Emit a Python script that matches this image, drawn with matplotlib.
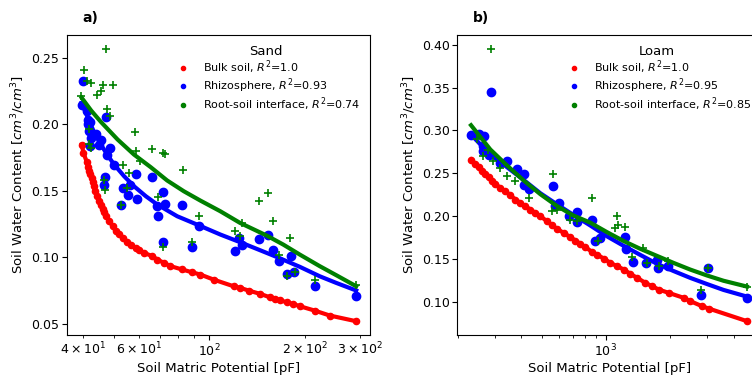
import matplotlib
matplotlib.use("Agg")
import matplotlib.pyplot as plt
from matplotlib.lines import Line2D

# ---- (a) Sand, values ----
sand_bulk_x = [39.7, 40.2, 41.2, 41.6, 41.95, 42.3, 42.7, 43.0, 43.3, 43.7, 44.3, 45.1, 45.6, 46.2,
               46.7, 47.3, 48.5, 49.7, 50.8, 52.1, 53.4, 55.3, 56.7, 58.7, 60.2, 62.4, 66.3, 68.7,
               72.1, 75.6, 82.3, 88.4, 93.9, 103.4, 119.5, 125.4, 133.2, 144.8, 155.7, 161.4,
               167.4, 175.6, 184.3, 193.3, 215.4, 240.2, 291.1]
sand_bulk_y = [0.1847, 0.1785, 0.1714, 0.1677, 0.1647, 0.1622, 0.1592, 0.1564, 0.1534, 0.1496,
               0.1459, 0.1421, 0.1391, 0.1366, 0.1339, 0.1308, 0.1271, 0.1233, 0.1196, 0.1171,
               0.1146, 0.1116, 0.1095, 0.1070, 0.1058, 0.1033, 0.1008, 0.0983, 0.0958, 0.0933,
               0.0908, 0.0887, 0.0870, 0.0832, 0.0782, 0.0770, 0.0750, 0.0725, 0.0699, 0.0689,
               0.0677, 0.0662, 0.0649, 0.0632, 0.0599, 0.0562, 0.0519]

sand_rhizo_x = [40.2, 39.7, 41.25, 41.5, 41.6, 42.3, 41.95, 42.5, 42.3, 44.0, 45.1, 45.6, 47.3,
                47.7, 48.8, 50.2, 47.0, 46.5, 52.7, 53.4, 55.6, 56.4, 58.7, 59.5, 66.0, 68.7,
                69.0, 71.4, 72.8, 71.8, 82.3, 88.4, 93.3, 120.9, 124.5, 126.9, 144.2, 153.8,
                159.5, 166.2, 175.6, 180.7, 185.6, 216.5, 291.1]
sand_rhizo_y = [0.2323, 0.2148, 0.2098, 0.2035, 0.1998, 0.2018, 0.1948, 0.1898, 0.1835, 0.1923,
                0.1847, 0.1885, 0.2053, 0.1767, 0.1822, 0.1692, 0.1604, 0.1542, 0.1391, 0.1517,
                0.1466, 0.1546, 0.1627, 0.1441, 0.1602, 0.1384, 0.1308, 0.1489, 0.1404, 0.1116,
                0.1391, 0.1075, 0.1238, 0.1045, 0.1141, 0.1095, 0.1138, 0.1166, 0.1058, 0.0975,
                0.0875, 0.1008, 0.0887, 0.0782, 0.0707]
sand_rhizo_fit_x = [39.7, 41.5, 43.5, 45.6, 47.9, 50.2, 54.0, 58.0, 63.2, 68.7, 79.4, 93.3, 108.5,
                    126.9, 144.8, 166.2, 193.3, 223.4, 251.9, 291.1]
sand_rhizo_fit_y = [0.2161, 0.2048, 0.1935, 0.1847, 0.1767, 0.1697, 0.1609, 0.1534, 0.1459, 0.1396,
                    0.1308, 0.1238, 0.1171, 0.1108, 0.1053, 0.0995, 0.0928, 0.0857, 0.0807, 0.0750]

sand_rsi_x = [47.2, 40.4, 41.2, 42.4, 46.4, 45.5, 44.2, 49.9, 39.4, 47.6, 48.9, 58.6, 58.9, 66.1,
              71.4, 72.8, 60.4, 53.7, 56.1, 82.5, 41.7, 42.5, 41.7, 46.5, 47.1, 55.3, 69.1, 52.7,
              93.2, 71.8, 88.4, 120.9, 126.9, 124.8, 143.8, 153.4, 159.6, 179.8, 166.1, 175.6,
              186.4, 215.4, 291.1]
sand_rsi_y = [0.2569, 0.2406, 0.2323, 0.2311, 0.2291, 0.2248, 0.2216, 0.2291, 0.2211, 0.2116,
              0.2060, 0.1943, 0.1797, 0.1817, 0.1780, 0.1777, 0.1722, 0.1697, 0.1635, 0.1659,
              0.1853, 0.1823, 0.1965, 0.1584, 0.1509, 0.1517, 0.1451, 0.1396, 0.1308, 0.1078,
              0.1116, 0.1201, 0.1259, 0.1158, 0.1421, 0.1484, 0.1276, 0.1146, 0.1020, 0.0857,
              0.0890, 0.0832, 0.0789]
sand_rsi_fit_x = [39.7, 42.5, 45.6, 51.5, 58.0, 65.5, 73.8, 83.3, 93.9, 108.5, 125.3, 152.0,
                  171.5, 193.3, 223.4, 251.9, 291.1]
sand_rsi_fit_y = [0.2198, 0.2103, 0.2018, 0.1885, 0.1772, 0.1677, 0.1577, 0.1496, 0.1426, 0.1346,
                  0.1258, 0.1163, 0.1095, 0.1020, 0.0933, 0.0865, 0.0782]

# ---- (b) Loam ----
loam_bulk_x = [231.6, 242.7, 251.7, 260.9, 270.5, 280.5, 290.9, 301.6, 318.4, 336.2, 354.9, 374.8,
               395.7, 417.8, 441.1, 465.7, 491.6, 528.6, 558.0, 589.2, 633.4, 681.0, 719.1, 759.2,
               801.5, 861.6, 909.8, 978.2, 1051.5, 1130.5, 1216, 1307, 1405, 1538, 1653, 1778,
               1982, 2332, 2507, 2846, 3060, 4640]
loam_bulk_y = [0.2659, 0.2608, 0.2573, 0.2530, 0.2491, 0.2452, 0.2414, 0.2375, 0.2328, 0.2289,
               0.2242, 0.2192, 0.2153, 0.2114, 0.2075, 0.2036, 0.1997, 0.1938, 0.1892, 0.1849,
               0.1802, 0.1752, 0.1713, 0.1674, 0.1635, 0.1580, 0.1549, 0.1502, 0.1452, 0.1413,
               0.1374, 0.1323, 0.1277, 0.1218, 0.1179, 0.1140, 0.1101, 0.1043, 0.1004, 0.0945,
               0.0918, 0.0770]

loam_rhizo_x = [231.6, 253.4, 267.6, 287.7, 262.9, 264.6, 282.4, 317.3, 341.2, 380.3, 411.7, 411.7,
                433.3, 566.2, 576.7, 604.1, 669, 729.8, 729.8, 859, 890.3, 940, 1233, 1247, 1341,
                1549, 1752, 1770, 1974, 3048, 2816, 4625]
loam_rhizo_y = [0.2943, 0.2959, 0.2939, 0.3445, 0.2814, 0.2756, 0.2717, 0.2620, 0.2647, 0.2550,
                0.2495, 0.2367, 0.2320, 0.2355, 0.2113, 0.2153, 0.1996, 0.2048, 0.1926, 0.1958,
                0.1704, 0.1744, 0.1756, 0.1616, 0.1459, 0.1452, 0.1491, 0.1394, 0.1421, 0.1394,
                0.1082, 0.1043]
loam_rhizo_fit_x = [231.6, 264.6, 285.6, 342.2, 410.2, 491.6, 589.2, 703.5, 843, 1011, 1211, 1451,
                    1740, 2084, 2498, 2995, 3586, 4625]
loam_rhizo_fit_y = [0.2950, 0.2800, 0.2717, 0.2570, 0.2420, 0.2265, 0.2135, 0.2012, 0.1890, 0.1763,
                    0.1652, 0.1546, 0.1442, 0.1357, 0.1277, 0.1205, 0.1136, 0.1058]

loam_rsi_x = [287.7, 247.1, 264.6, 294, 315.5, 340.4, 373.4, 564.4, 434.7, 558.3, 589.2, 674.8,
              732.2, 861.7, 915, 1100, 1131, 1143, 1233, 1331, 1491, 1561, 1774, 1967, 2816, 3048,
              4625, 278.5]
loam_rsi_y = [0.3956, 0.2904, 0.2697, 0.2639, 0.2562, 0.2464, 0.2414, 0.2495, 0.2215, 0.2057,
              0.2069, 0.1952, 0.1946, 0.2215, 0.1707, 0.1864, 0.1996, 0.1900, 0.1876, 0.1526,
              0.1627, 0.1450, 0.1421, 0.1479, 0.1134, 0.1394, 0.1172, 0.2776]
loam_rsi_fit_x = [231.6, 285.6, 342.2, 410.2, 491.6, 589.2, 703.5, 843, 1011, 1211, 1451, 1740,
                  2084, 2498, 2995, 3586, 4625]
loam_rsi_fit_y = [0.3060, 0.2776, 0.2590, 0.2414, 0.2254, 0.2115, 0.2005, 0.1923, 0.1812, 0.1708,
                  0.1617, 0.1534, 0.1452, 0.1374, 0.1305, 0.1243, 0.1175]

sand_r2 = ["1.0", "0.93", "0.74"]
loam_r2 = ["1.0", "0.95", "0.85"]
series_names = ["Bulk soil", "Rhizosphere", "Root-soil interface"]
colors = ["red", "blue", "green"]


def panel(ax, bulk, rhizo, rhizo_fit, rsi, rsi_fit, r2, soil):
    ax.scatter(bulk[0], bulk[1], color="red", s=20, zorder=2)
    ax.plot(bulk[0], bulk[1], color="red", lw=3, zorder=2)
    ax.scatter(rhizo[0], rhizo[1], color="blue", s=36, zorder=3)
    ax.plot(rhizo_fit[0], rhizo_fit[1], color="blue", lw=3, zorder=3)
    ax.scatter(rsi[0], rsi[1], color="green", marker="+", s=36, lw=1.2, zorder=4)
    ax.plot(rsi_fit[0], rsi_fit[1], color="green", lw=3, zorder=4)
    ax.set_xscale("log")
    ax.tick_params(which="both", labelsize=9, pad=2)
    ax.set_xlabel("Soil Matric Potential [pF]", fontsize=9.5, labelpad=2)
    ax.set_ylabel("Soil Water Content [$cm^3/cm^3$]", fontsize=9.5, labelpad=3, y=0.535)
    handles = [Line2D([0], [0], marker="o", ls="", color=c, markersize=3) for c in colors]
    labels = [f"{n}, $R^2$={r}" for n, r in zip(series_names, r2)]
    ax.legend(handles, labels, title=soil, loc="upper right", frameon=False,
              fontsize=8, title_fontsize=9.5, labelspacing=0.05)


fig = plt.figure(figsize=(7.52, 3.75), dpi=100)
ax1 = fig.add_axes([0.089, 0.107, 0.403, 0.800])
ax2 = fig.add_axes([0.608, 0.107, 0.404, 0.800])

panel(ax1, (sand_bulk_x, sand_bulk_y), (sand_rhizo_x, sand_rhizo_y),
      (sand_rhizo_fit_x, sand_rhizo_fit_y), (sand_rsi_x, sand_rsi_y),
      (sand_rsi_fit_x, sand_rsi_fit_y), sand_r2, "Sand")
panel(ax2, (loam_bulk_x, loam_bulk_y), (loam_rhizo_x, loam_rhizo_y),
      (loam_rhizo_fit_x, loam_rhizo_fit_y), (loam_rsi_x, loam_rsi_y),
      (loam_rsi_fit_x, loam_rsi_fit_y), loam_r2, "Loam")

fig.text(0.110, 0.952, "a)", fontsize=10, fontweight="bold", va="center")
fig.text(0.629, 0.952, "b)", fontsize=10, fontweight="bold", va="center")

fig.savefig("out.png", dpi=100)
